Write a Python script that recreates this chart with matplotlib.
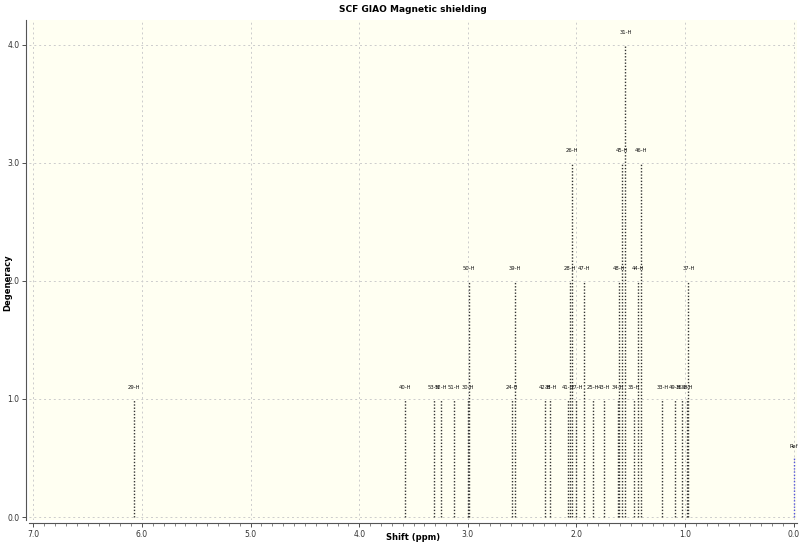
import matplotlib
matplotlib.use("Agg")
import matplotlib.pyplot as plt
from matplotlib.ticker import MultipleLocator

# one stick per hydrogen: label, shift (ppm), stacked degeneracy level
labels = ["29-H", "40-H", "53-H", "52-H", "51-H", "30-H", "50-H", "24-H", "39-H",
          "42-H", "38-H", "41-H", "28-H", "26-H", "27-H", "47-H", "25-H", "43-H",
          "34-H", "48-H", "45-H", "31-H", "35-H", "44-H", "46-H", "33-H", "49-H",
          "36-H", "32-H", "37-H"]
shifts = [6.07, 3.58, 3.31, 3.25, 3.13, 3.00, 2.99, 2.59, 2.57,
          2.29, 2.24, 2.08, 2.06, 2.04, 2.00, 1.93, 1.85, 1.75,
          1.62, 1.61, 1.58, 1.55, 1.47, 1.43, 1.41, 1.21, 1.09,
          1.03, 0.98, 0.97]
levels = [1, 1, 1, 1, 1, 1, 2, 1, 2,
          1, 1, 1, 2, 3, 1, 2, 1, 1,
          1, 2, 3, 4, 1, 2, 3, 1, 1,
          1, 1, 2]
ref_shift = 0.0
ref_level = 0.5

fig = plt.figure(figsize=(8, 5.43), dpi=100)
ax = fig.add_axes([29 / 800, 1 - 520 / 543, 768 / 800, 500 / 543])
ax.set_facecolor("#fffff2")

for lab, s, lv in zip(labels, shifts, levels):
    ax.plot([s, s], [0, lv], color="#333333", lw=1.0, linestyle=(0, (1, 1.3)))
    ax.text(s, lv + 0.08, lab, ha="center", va="bottom", fontsize=3.8,
            color="#111111")

ax.plot([ref_shift, ref_shift], [0, ref_level], color="#5555dd", lw=1.0,
        linestyle=(0, (1, 1.3)))
ax.text(ref_shift, ref_level + 0.08, "Ref", ha="center", va="bottom",
        fontsize=3.8, color="#111111")

ax.set_xlim(7.04, -0.03)
ax.set_ylim(-0.025, 4.21)
ax.xaxis.set_major_locator(MultipleLocator(1.0))
ax.xaxis.set_minor_locator(MultipleLocator(0.1))
ax.yaxis.set_major_locator(MultipleLocator(1.0))
ax.xaxis.set_major_formatter(plt.FuncFormatter(lambda v, p: f"{v:.1f}"))
ax.yaxis.set_major_formatter(plt.FuncFormatter(lambda v, p: f"{v:.1f}"))
ax.tick_params(labelsize=5.5, colors="#333333", length=3, width=0.6, pad=2)
ax.tick_params(which="minor", length=2, width=0.5, colors="#555555")
ax.grid(True, color="#cccccc", linestyle=(0, (2, 3)), lw=0.7)

for side in ["top", "right"]:
    ax.spines[side].set_visible(False)
for side in ["left", "bottom"]:
    ax.spines[side].set_color("#555555")
    ax.spines[side].set_linewidth(0.8)
    ax.spines[side].set_position(("outward", 2))

ax.set_title("SCF GIAO Magnetic shielding", fontsize=6.5, fontweight="bold", pad=6)
fig.text(413 / 800, 1 - 537 / 543, "Shift (ppm)", fontsize=6, fontweight="bold",
         ha="center", va="center")
fig.text(8 / 800, 1 - 283 / 543, "Degeneracy", fontsize=6, fontweight="bold",
         ha="center", va="center", rotation=90)

fig.savefig("out.png", dpi=100)
